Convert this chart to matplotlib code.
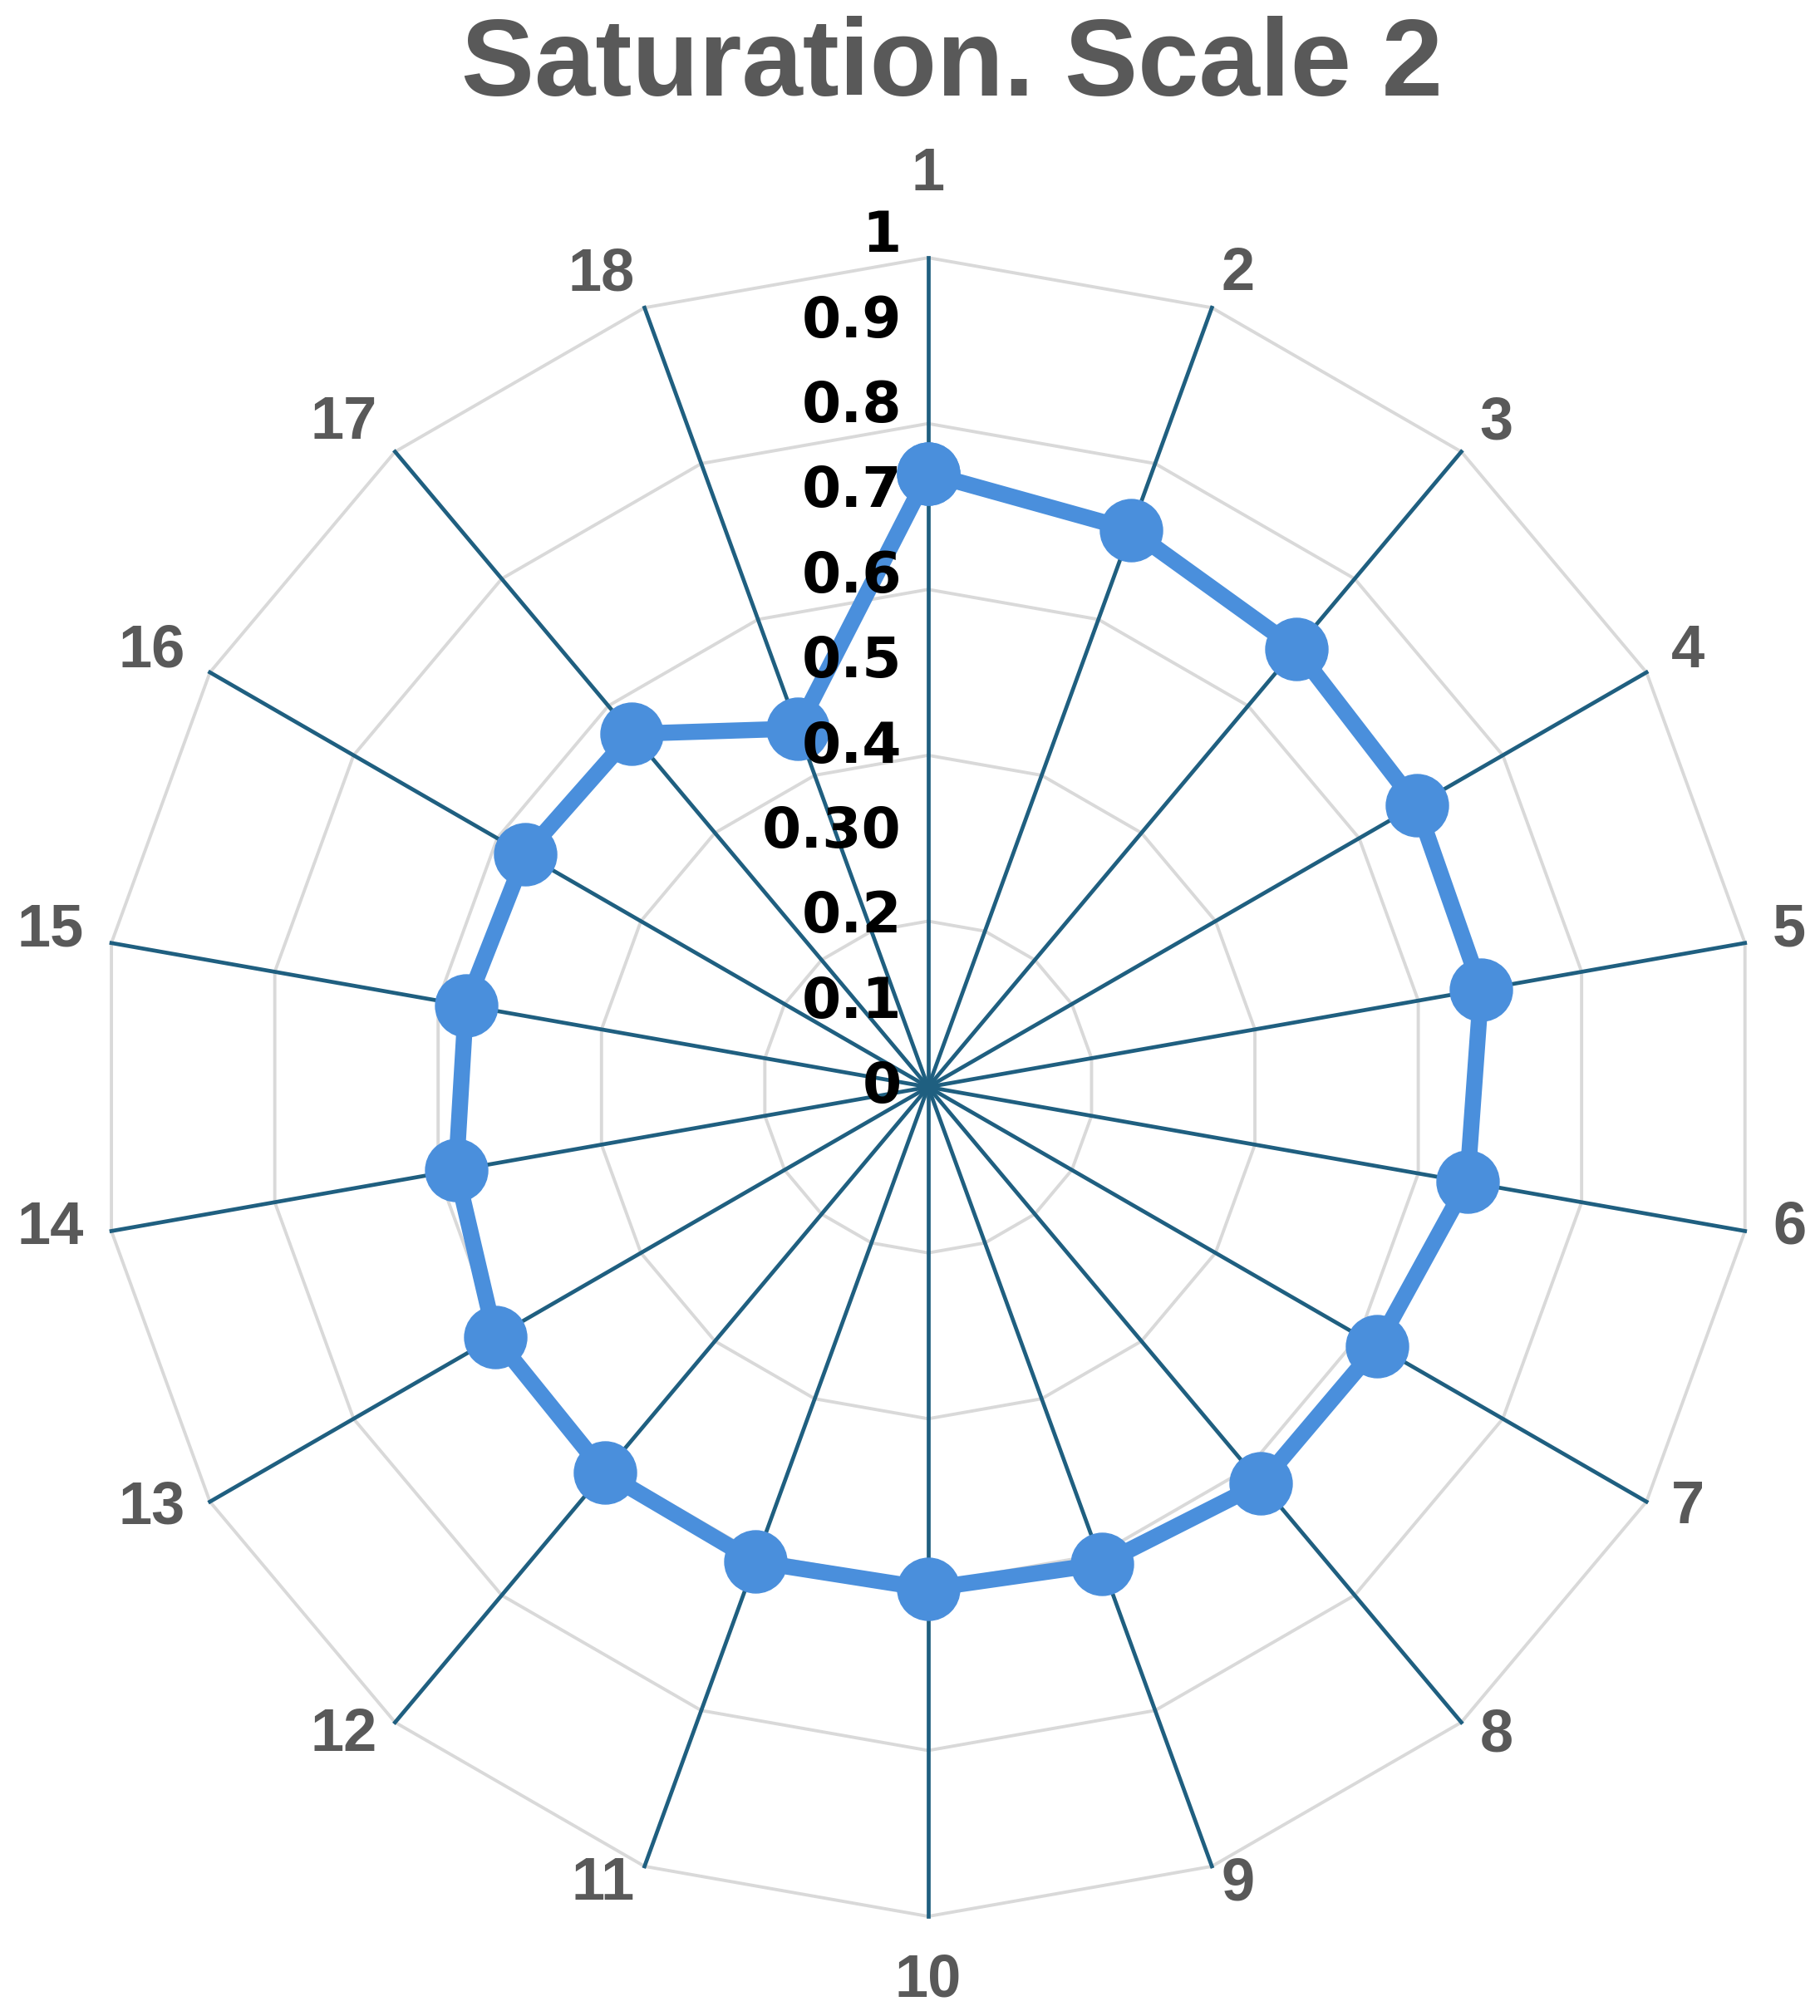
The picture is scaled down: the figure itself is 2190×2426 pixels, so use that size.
import numpy as np
import matplotlib
matplotlib.use("Agg")
from matplotlib import pyplot as plt

categories = [str(i) for i in range(1, 19)]
values = [0.74, 0.715, 0.69, 0.68, 0.677, 0.66, 0.625, 0.624, 0.612,
          0.605, 0.609, 0.607, 0.603, 0.578, 0.566, 0.561, 0.556, 0.46]
grid_levels = [0.2, 0.4, 0.6, 0.8, 1.0]
rticks = [0, 0.1, 0.2, 0.3, 0.4, 0.5, 0.6, 0.7, 0.8, 0.9, 1.0]
rtick_labels = ['0', '0.1', '0.2', '0.30', '0.4', '0.5', '0.6', '0.7', '0.8', '0.9', '1']

plt.rcParams['font.family'] = ['Liberation Sans', 'DejaVu Sans']

fig = plt.figure(figsize=(21.9, 24.26), dpi=100)
ax = fig.add_axes([0.0543, 0.0494, 0.9114, 0.8228], projection='polar')
ax.set_theta_zero_location('N')
ax.set_theta_direction(-1)

n = len(categories)
theta = np.arange(n) * 2 * np.pi / n
theta_closed = np.append(theta, theta[0])

# polygon grid
for r in grid_levels:
    ax.plot(theta_closed, [r] * (n + 1), color='#d9d9d9', lw=2.8, zorder=1,
            clip_on=False)
# spokes
for t in theta:
    ax.plot([t, t], [0, 1], color='#1f5f80', lw=3.4, zorder=2, clip_on=False)

vals = np.append(values, values[0])
ax.plot(theta_closed, vals, color='#4a8fdc', lw=14, marker='o', markersize=54,
        solid_joinstyle='round', zorder=3)

# category labels next to the outer ring vertices
for t, c in zip(theta, categories):
    s, co = np.sin(t), np.cos(t)
    if abs(s) < 0.1:
        ha, dx = 'center', 0
        dy = 72 if co > 0 else -56
    else:
        ha = 'left' if s > 0 else 'right'
        dx = 24.5 * s
        dy = 6.7 + 23.4 * co
    ax.annotate(c, xy=(t, 1), xytext=(dx, dy), textcoords='offset points',
                ha=ha, va='center', fontsize=52, fontweight='bold', color='#595959',
                annotation_clip=False)

# radial value labels
for v, lab in zip(rticks, rtick_labels):
    ax.annotate(lab, xy=(0, v * 1.026), xytext=(-23, 0), textcoords='offset points',
                ha='right', va='center', fontsize=49, fontweight='bold',
                color='black', family=['DejaVu Sans'], zorder=4,
                annotation_clip=False)

ax.set_ylim(0, 1)
ax.set_xticks([])
ax.set_yticks([])
ax.grid(False)
ax.spines['polar'].set_visible(False)
ax.set_facecolor('none')

fig.text(0.523, 0.967, 'Saturation. Scale 2', ha='center', va='center',
         fontsize=95, fontweight='bold', color='#595959')

fig.savefig('out.png', dpi=100, facecolor='white')
